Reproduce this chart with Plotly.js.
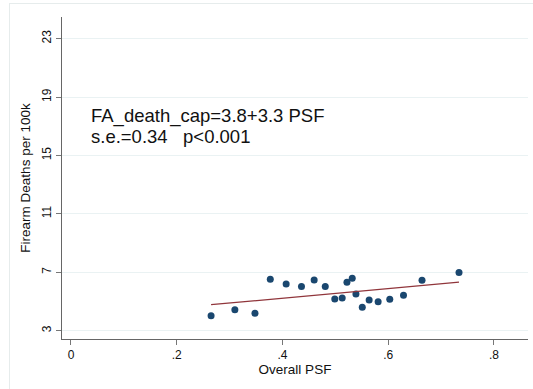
<!DOCTYPE html>
<html>
<head>
<meta charset="utf-8">
<script src="https://cdn.plot.ly/plotly-3.0.1.min.js"></script>
<style>
  html, body { margin: 0; padding: 0; background: #ffffff; }
  #wrap { position: relative; width: 533px; height: 389px; overflow: hidden; }
  #chart { width: 533px; height: 389px; }
  #frame { position: absolute; left: 9px; top: 3px; width: 540px; height: 400px;
           border-left: 1px solid #e6ecec; border-top: 1px solid #e6ecec; pointer-events: none; }
</style>
</head>
<body>
<div id="wrap">
  <div id="chart"></div>
  <div id="frame"></div>
</div>
<script>
// Scatter data (Overall PSF vs firearm deaths per 100k)
const psf = [0.265, 0.310, 0.348, 0.377, 0.407, 0.436, 0.460, 0.481, 0.499, 0.513,
             0.522, 0.532, 0.539, 0.551, 0.564, 0.581, 0.603, 0.629, 0.664, 0.734];
const deaths = [4.03, 4.44, 4.19, 6.52, 6.20, 6.02, 6.47, 6.02, 5.17, 5.24,
                6.32, 6.59, 5.52, 4.60, 5.10, 4.99, 5.15, 5.43, 6.45, 6.98];

// Fitted line endpoints
const fitX = [0.265, 0.734];
const fitY = [4.78, 6.32];

const xTicks = [0, 0.2, 0.4, 0.6, 0.8];
const xTickLabels = ['0', '.2', '.4', '.6', '.8'];
const yTicks = [3, 7, 11, 15, 19, 23];
const yTickLabels = ['3', '7', '11', '15', '19', '23'];

const eqLine1 = 'FA_death_cap=3.8+3.3 PSF';
const eqLine2 = 's.e.=0.34&nbsp;&nbsp;&nbsp;p<0.001';

const traces = [
  {
    x: psf, y: deaths, type: 'scatter', mode: 'markers',
    marker: { color: '#1a476f', size: 7 },
    hoverinfo: 'x+y', showlegend: false
  },
  {
    x: fitX, y: fitY, type: 'scatter', mode: 'lines',
    line: { color: '#90353b', width: 1.3 },
    showlegend: false
  }
];

const layout = {
  width: 533, height: 389,
  margin: { l: 62, r: 5, t: 17, b: 50 },
  paper_bgcolor: '#ffffff',
  plot_bgcolor: '#ffffff',
  font: { family: 'Liberation Sans, Arial, sans-serif', color: '#222222' },
  showlegend: false,
  xaxis: {
    range: [-0.017, 0.8645],
    tickvals: xTicks, ticktext: xTickLabels,
    ticks: 'outside', ticklen: 5, tickcolor: '#777777', tickwidth: 1,
    showline: true, linecolor: '#666666', linewidth: 1,
    showgrid: false, zeroline: false,
    tickfont: { size: 12, color: '#111111' },
    title: { text: 'Overall PSF', font: { size: 13.5, color: '#111111' }, standoff: 0 }
  },
  yaxis: {
    range: [2.431, 24.48],
    tickvals: yTicks, ticktext: yTickLabels,
    tickangle: -90,
    ticks: 'outside', ticklen: 5, tickcolor: '#777777', tickwidth: 1,
    showline: true, linecolor: '#666666', linewidth: 1,
    showgrid: true, gridcolor: '#eaf2f3', gridwidth: 1,
    zeroline: false,
    tickfont: { size: 12, color: '#111111' },
    title: { text: 'Firearm Deaths per 100k', font: { size: 13.5, color: '#111111' }, standoff: 6 }
  },
  annotations: [
    {
      xref: 'paper', yref: 'paper',
      x: (89 - 62) / 466, y: 1 - (129 - 17) / 322,
      xanchor: 'left', yanchor: 'bottom',
      text: eqLine1, showarrow: false, align: 'left',
      font: { family: 'Liberation Sans, Arial, sans-serif', size: 18.5, color: '#111111' }
    },
    {
      xref: 'paper', yref: 'paper',
      x: (89 - 62) / 466, y: 1 - (149 - 17) / 322,
      xanchor: 'left', yanchor: 'bottom',
      text: eqLine2, showarrow: false, align: 'left',
      font: { family: 'Liberation Sans, Arial, sans-serif', size: 18.5, color: '#111111' }
    }
  ]
};

Plotly.newPlot('chart', traces, layout, { displayModeBar: false, staticPlot: true });
</script>
</body>
</html>
